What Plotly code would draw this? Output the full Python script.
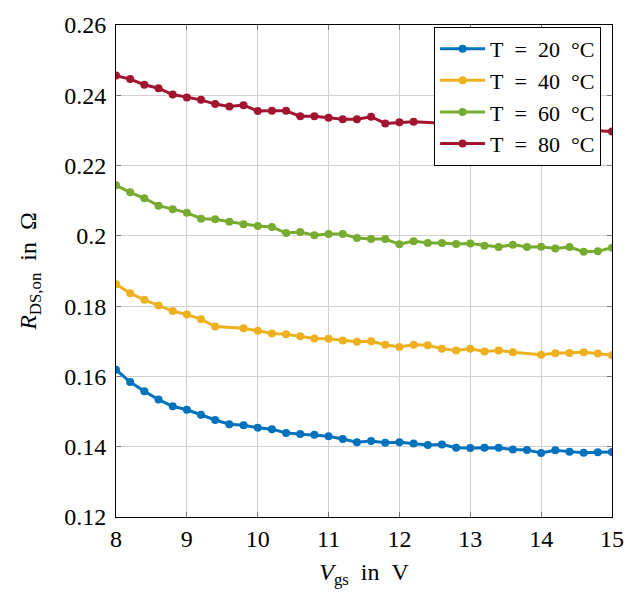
import plotly.graph_objects as go

# ---- data ----
vgs_all = [8.0, 8.2, 8.4, 8.6, 8.8, 9.0, 9.2, 9.4, 9.6, 9.8, 10.0, 10.2, 10.4, 10.6, 10.8, 11.0,
           11.2, 11.4, 11.6, 11.8, 12.0, 12.2, 12.4, 12.6, 12.8, 13.0, 13.2, 13.4, 13.6, 13.8,
           14.0, 14.2, 14.4, 14.6, 14.8, 15.0]

r_20 = [0.1619, 0.1584, 0.1558, 0.1534, 0.1515, 0.1505, 0.1491, 0.1476, 0.1464, 0.1461, 0.1454,
        0.1450, 0.1439, 0.1436, 0.1434, 0.1430, 0.1422, 0.1413, 0.1416, 0.1411, 0.1413, 0.1409,
        0.1405, 0.1406, 0.1397, 0.1396, 0.1397, 0.1397, 0.1392, 0.1391, 0.1382, 0.1390, 0.1386,
        0.1383, 0.1384, 0.1385]

vgs_40 = [8.0, 8.2, 8.4, 8.6, 8.8, 9.0, 9.2, 9.4, 9.8, 10.0, 10.2, 10.4, 10.6, 10.8, 11.0,
          11.2, 11.4, 11.6, 11.8, 12.0, 12.2, 12.4, 12.6, 12.8, 13.0, 13.2, 13.4, 13.6,
          14.0, 14.2, 14.4, 14.6, 14.8, 15.0]
r_40 = [0.1862, 0.1837, 0.1818, 0.1802, 0.1786, 0.1776, 0.1763, 0.1742, 0.1737, 0.1730, 0.1722,
        0.1720, 0.1714, 0.1708, 0.1707, 0.1702, 0.1699, 0.1700, 0.1690, 0.1684, 0.1690, 0.1689,
        0.1679, 0.1674, 0.1679, 0.1671, 0.1674, 0.1669, 0.1662, 0.1666, 0.1667, 0.1669, 0.1665,
        0.1660]

r_60 = [0.2144, 0.2124, 0.2107, 0.2086, 0.2076, 0.2066, 0.2049, 0.2047, 0.2040, 0.2033, 0.2028,
        0.2025, 0.2008, 0.2011, 0.2002, 0.2005, 0.2005, 0.1994, 0.1991, 0.1991, 0.1976, 0.1985,
        0.1980, 0.1980, 0.1977, 0.1978, 0.1972, 0.1968, 0.1975, 0.1968, 0.1969, 0.1964, 0.1968,
        0.1955, 0.1956, 0.1966]

# points between 12.4 V and 14.8 V are hidden behind the legend in the reference
vgs_80 = [8.0, 8.2, 8.4, 8.6, 8.8, 9.0, 9.2, 9.4, 9.6, 9.8, 10.0, 10.2, 10.4, 10.6, 10.8, 11.0,
          11.2, 11.4, 11.6, 11.8, 12.0, 12.2, 15.0]
r_80 = [0.2456, 0.2446, 0.2430, 0.2420, 0.2402, 0.2394, 0.2387, 0.2375, 0.2368, 0.2372, 0.2355,
        0.2356, 0.2356, 0.2340, 0.2340, 0.2336, 0.2332, 0.2332, 0.2339, 0.2320, 0.2323, 0.2325,
        0.2297]

NB = "\u00a0\u00a0"
series = [
    (f"T{NB}={NB}20{NB}°C", vgs_all, r_20, "#0072BD"),
    (f"T{NB}={NB}40{NB}°C", vgs_40, r_40, "#EDB120"),
    (f"T{NB}={NB}60{NB}°C", vgs_all, r_60, "#77AC30"),
    (f"T{NB}={NB}80{NB}°C", vgs_80, r_80, "#A2142F"),
]

x_ticks = [8, 9, 10, 11, 12, 13, 14, 15]
x_ticktext = ["8", "9", "10", "11", "12", "13", "14", "15"]
y_ticks = [0.12, 0.14, 0.16, 0.18, 0.20, 0.22, 0.24, 0.26]
y_ticktext = ["0.12", "0.14", "0.16", "0.18", "0.2", "0.22", "0.24", "0.26"]

FONT = "Liberation Serif"
FS = 24

fig = go.Figure()
for name, xs, ys, col in series:
    fig.add_trace(go.Scatter(
        x=xs, y=ys, name=name, mode="lines+markers",
        line=dict(color=col, width=3),
        marker=dict(color=col, size=8, symbol="circle"),
    ))

axis_common = dict(
    showgrid=True, gridcolor="#d0d0d0", gridwidth=1,
    showline=True, linecolor="black", linewidth=1, mirror="ticks",
    ticks="inside", ticklen=5, tickcolor="#777777", tickwidth=1,
    zeroline=False,
    tickfont=dict(family=FONT, size=FS, color="black"),
)

fig.update_layout(
    width=642, height=593,
    margin=dict(l=116, r=30, t=16, b=76),
    paper_bgcolor="white", plot_bgcolor="white",
    font=dict(family=FONT, size=FS, color="black"),
    xaxis=dict(range=[8, 15], tickvals=x_ticks, ticktext=x_ticktext,
               title=dict(text="<i>V</i><sub>gs</sub>\u00a0\u00a0in\u00a0\u00a0V",
                          font=dict(family=FONT, size=FS), standoff=12),
               **axis_common),
    yaxis=dict(range=[0.12, 0.26], tickvals=y_ticks, ticktext=y_ticktext,
               title=dict(text="<i>R</i><sub>DS,on</sub>\u00a0\u00a0in\u00a0\u00a0Ω",
                          font=dict(family=FONT, size=FS), standoff=20),
               ticklabelstandoff=4,
               **axis_common),
    legend=dict(
        x=0.978, y=0.996, xanchor="right", yanchor="top",
        bgcolor="white", bordercolor="black", borderwidth=1,
        font=dict(family=FONT, size=22, color="black"),
        itemwidth=45,
    ),
    showlegend=True,
)

fig.write_html("out.html")
